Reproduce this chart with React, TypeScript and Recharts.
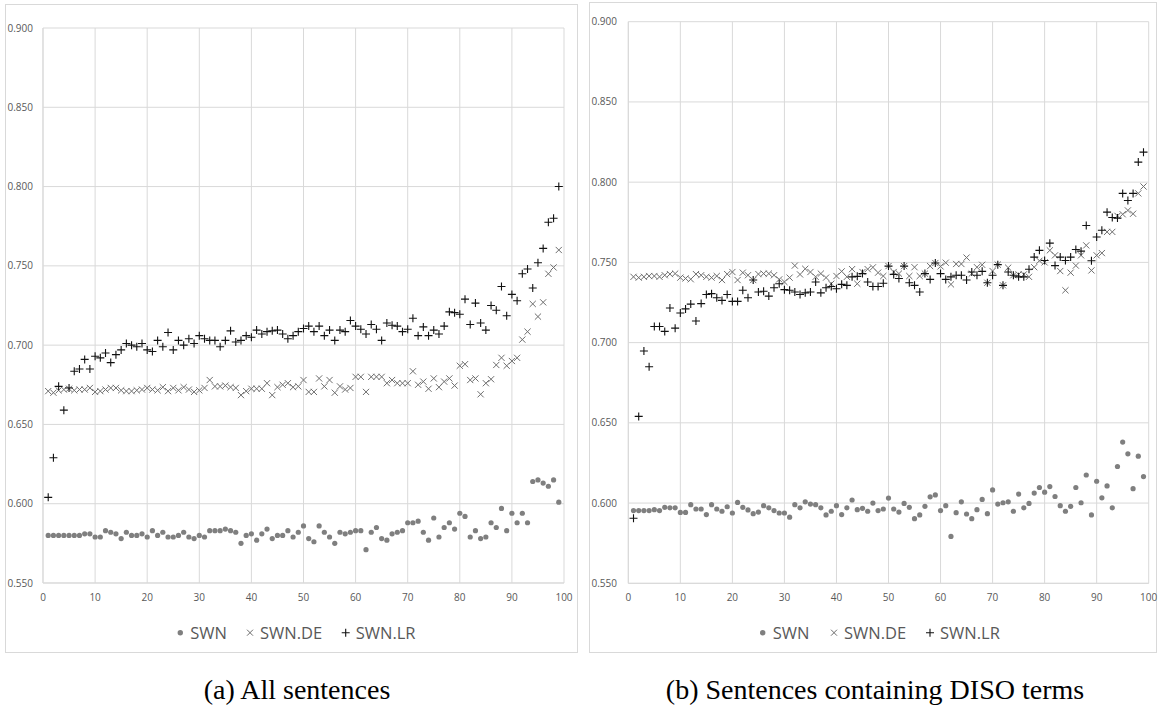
import React from 'react';
import { ScatterChart, Scatter, XAxis, YAxis, CartesianGrid } from 'recharts';

// ---------- categories & ticks ----------
const sentenceIdx: number[] = Array.from({ length: 99 }, (_, i) => i + 1);
const xTicks = [0, 10, 20, 30, 40, 50, 60, 70, 80, 90, 100];
const yTicks = [0.55, 0.6, 0.65, 0.7, 0.75, 0.8, 0.85, 0.9];
const seriesNames = ['SWN', 'SWN.DE', 'SWN.LR'];
const captions = ['(a) All sentences', '(b) Sentences containing DISO terms'];

// ---------- (a) All sentences ----------
const swnAll = [
  0.580, 0.580, 0.580, 0.580, 0.580, 0.580, 0.580, 0.581, 0.581, 0.579,
  0.579, 0.583, 0.582, 0.581, 0.578, 0.582, 0.580, 0.580, 0.581, 0.579,
  0.583, 0.580, 0.582, 0.579, 0.579, 0.580, 0.582, 0.579, 0.578, 0.580,
  0.579, 0.583, 0.583, 0.583, 0.584, 0.583, 0.582, 0.575, 0.580, 0.581,
  0.577, 0.581, 0.584, 0.578, 0.580, 0.580, 0.583, 0.579, 0.582, 0.586,
  0.578, 0.576, 0.586, 0.582, 0.579, 0.575, 0.582, 0.581, 0.582, 0.583,
  0.583, 0.571, 0.582, 0.585, 0.578, 0.577, 0.581, 0.582, 0.583, 0.588,
  0.588, 0.589, 0.582, 0.577, 0.591, 0.579, 0.585, 0.588, 0.584, 0.594,
  0.592, 0.579, 0.583, 0.578, 0.579, 0.588, 0.585, 0.597, 0.583, 0.594,
  0.588, 0.594, 0.588, 0.614, 0.615, 0.613, 0.611, 0.615, 0.601,
];
const swnDeAll = [
  0.671, 0.670, 0.6715, 0.672, 0.6725, 0.6715, 0.672, 0.672, 0.673, 0.6705,
  0.671, 0.672, 0.673, 0.673, 0.6715, 0.671, 0.671, 0.6715, 0.672, 0.673,
  0.672, 0.6715, 0.6735, 0.671, 0.673, 0.6715, 0.6735, 0.672, 0.6705, 0.6715,
  0.673, 0.678, 0.674, 0.674, 0.6745, 0.6735, 0.673, 0.6685, 0.671, 0.6725,
  0.6725, 0.6725, 0.676, 0.6685, 0.6735, 0.675, 0.676, 0.6735, 0.674, 0.678,
  0.6705, 0.6705, 0.679, 0.674, 0.678, 0.670, 0.674, 0.672, 0.673, 0.680,
  0.680, 0.6705, 0.680, 0.680, 0.680, 0.676, 0.678, 0.676, 0.676, 0.676,
  0.6835, 0.675, 0.677, 0.6725, 0.679, 0.6735, 0.677, 0.679, 0.6745, 0.687,
  0.688, 0.678, 0.679, 0.669, 0.676, 0.6785, 0.6875, 0.692, 0.687, 0.690,
  0.692, 0.7035, 0.7085, 0.726, 0.718, 0.727, 0.745, 0.749, 0.760,
];
const swnLrAll = [
  0.604, 0.629, 0.674, 0.659, 0.673, 0.6835, 0.685, 0.691, 0.685, 0.693,
  0.692, 0.695, 0.689, 0.694, 0.697, 0.701, 0.700, 0.699, 0.701, 0.697,
  0.696, 0.703, 0.699, 0.708, 0.697, 0.703, 0.700, 0.704, 0.701, 0.706,
  0.704, 0.703, 0.703, 0.699, 0.703, 0.709, 0.702, 0.703, 0.706, 0.705,
  0.7095, 0.707, 0.7085, 0.709, 0.7095, 0.707, 0.704, 0.706, 0.7085, 0.7105,
  0.712, 0.7085, 0.712, 0.706, 0.7095, 0.703, 0.7095, 0.7085, 0.7155, 0.712,
  0.710, 0.707, 0.713, 0.710, 0.703, 0.714, 0.7125, 0.712, 0.7085, 0.710,
  0.717, 0.706, 0.7115, 0.706, 0.7095, 0.707, 0.712, 0.721, 0.7205, 0.7195,
  0.729, 0.713, 0.7265, 0.714, 0.7095, 0.725, 0.722, 0.737, 0.7185, 0.732,
  0.728, 0.745, 0.748, 0.736, 0.752, 0.761, 0.7775, 0.780, 0.800,
];

// ---------- (b) Sentences containing DISO terms ----------
const swnDiso = [
  0.5953, 0.5953, 0.5953, 0.5953, 0.5959, 0.5953, 0.5973, 0.597, 0.597, 0.5942,
  0.5942, 0.599, 0.5963, 0.5963, 0.5928, 0.599, 0.5963, 0.5949, 0.5977, 0.5938,
  0.6004, 0.5973, 0.5957, 0.5934, 0.5944, 0.5984, 0.597, 0.5953, 0.5938, 0.5938,
  0.5912, 0.599, 0.597, 0.6008, 0.5994, 0.599, 0.597, 0.5926, 0.5949, 0.5984,
  0.5928, 0.597, 0.6019, 0.5959, 0.5967, 0.5949, 0.600, 0.5953, 0.5963, 0.6031,
  0.5963, 0.5944, 0.5998, 0.5973, 0.5903, 0.5926, 0.598, 0.6039, 0.6051, 0.5953,
  0.5984, 0.5792, 0.594, 0.6008, 0.5932, 0.5903, 0.5959, 0.6023, 0.5934, 0.6082,
  0.5994, 0.6002, 0.6008, 0.5949, 0.6056, 0.597, 0.5998, 0.6062, 0.6097, 0.6068,
  0.6103, 0.6041, 0.5984, 0.5949, 0.598, 0.6097, 0.6002, 0.6175, 0.5926, 0.6136,
  0.6033, 0.6107, 0.597, 0.6228, 0.638, 0.6307, 0.609, 0.6292, 0.6165,
];
const swnDeDiso = [
  0.741, 0.7405, 0.741, 0.7415, 0.7415, 0.741, 0.742, 0.7427, 0.743, 0.7405,
  0.740, 0.7395, 0.7427, 0.742, 0.741, 0.7405, 0.7415, 0.739, 0.7427, 0.744,
  0.739, 0.7436, 0.742, 0.739, 0.7427, 0.743, 0.743, 0.742, 0.7394, 0.7378,
  0.7405, 0.748, 0.7425, 0.746, 0.744, 0.741, 0.743, 0.7405, 0.7367, 0.7415,
  0.7444, 0.741, 0.7458, 0.7367, 0.744, 0.7458, 0.7469, 0.7436, 0.7415, 0.7477,
  0.744, 0.743, 0.7477, 0.7415, 0.747, 0.7415, 0.743, 0.7477, 0.7496, 0.7475,
  0.7498, 0.7363, 0.749, 0.749, 0.753, 0.743, 0.747, 0.7485, 0.7373, 0.7446,
  0.7486, 0.7357, 0.7467, 0.742, 0.7425, 0.7425, 0.741, 0.747, 0.751, 0.750,
  0.7575, 0.7544, 0.7446, 0.7326, 0.7436, 0.748, 0.7544, 0.7606, 0.745, 0.7544,
  0.7558, 0.769, 0.769, 0.779, 0.780, 0.7824, 0.7803, 0.793, 0.7973,
];
const swnLrDiso = [
  0.5905, 0.654, 0.6948, 0.685, 0.710, 0.710, 0.707, 0.7216, 0.709, 0.7185,
  0.721, 0.724, 0.7135, 0.7243, 0.730, 0.7305, 0.728, 0.7263, 0.730, 0.7257,
  0.7257, 0.7326, 0.728, 0.739, 0.7315, 0.732, 0.729, 0.7342, 0.7367, 0.733,
  0.7326, 0.7315, 0.730, 0.731, 0.7315, 0.7378, 0.731, 0.7342, 0.735, 0.7336,
  0.7363, 0.7357, 0.741, 0.7413, 0.743, 0.7378, 0.735, 0.735, 0.737, 0.7477,
  0.7425, 0.740, 0.7477, 0.7373, 0.7357, 0.7315, 0.743, 0.7394, 0.7496, 0.743,
  0.7394, 0.741, 0.742, 0.742, 0.739, 0.744, 0.742, 0.7444, 0.7373, 0.742,
  0.7486, 0.7357, 0.744, 0.742, 0.741, 0.741, 0.7457, 0.7533, 0.7575, 0.7512,
  0.762, 0.748, 0.7533, 0.7512, 0.7533, 0.758, 0.757, 0.773, 0.751, 0.7658,
  0.770, 0.7813, 0.778, 0.7776, 0.793, 0.7886, 0.793, 0.8125, 0.8187,
];

const toPoints = (vals: number[]) => vals.map((v, i) => ({ x: sentenceIdx[i], y: v }));

const GREY = '#7f7f7f';
const TEXT = '#595959';
const GRID = '#d9d9d9';
const SANS = '"Open Sans", Lato, sans-serif';

const DotShape = (p: any) => <circle cx={p.cx} cy={p.cy} r={2.6} fill={GREY} />;
const CrossShape = (p: any) => {
  const s = 3.1;
  return (
    <path
      d={`M${p.cx - s},${p.cy - s}L${p.cx + s},${p.cy + s}M${p.cx - s},${p.cy + s}L${p.cx + s},${p.cy - s}`}
      stroke="#6e6e6e"
      strokeWidth={1}
      fill="none"
    />
  );
};
const PlusShape = (p: any) => {
  const s = 4;
  return (
    <path
      d={`M${p.cx - s},${p.cy}L${p.cx + s},${p.cy}M${p.cx},${p.cy - s}L${p.cx},${p.cy + s}`}
      stroke="#111"
      strokeWidth={1.1}
      fill="none"
    />
  );
};

type PanelProps = {
  left: number;
  width: number;
  margin: { top: number; right: number; bottom: number; left: number };
  yAxisWidth: number;
  yTickMargin: number;
  swn: number[];
  de: number[];
  lr: number[];
};

const Panel = ({ left, width, margin, yAxisWidth, yTickMargin, swn, de, lr }: PanelProps) => (
  <div style={{ position: 'absolute', left, top: 0 }}>
    <ScatterChart width={width} height={660} margin={margin}>
      <CartesianGrid stroke={GRID} strokeWidth={1} />
      <XAxis
        type="number"
        dataKey="x"
        domain={[0, 100]}
        ticks={xTicks}
        interval={0}
        tickLine={false}
        tickMargin={5}
        axisLine={{ stroke: GRID }}
        height={20}
        tick={{ fill: TEXT, fontSize: 10, fontFamily: SANS }}
      />
      <YAxis
        type="number"
        dataKey="y"
        domain={[0.55, 0.9]}
        ticks={yTicks}
        interval={0}
        width={yAxisWidth}
        tickLine={false}
        tickMargin={yTickMargin}
        axisLine={{ stroke: GRID }}
        tickFormatter={(v: number) => v.toFixed(3)}
        tick={{ fill: TEXT, fontSize: 10, fontFamily: SANS }}
      />
      <Scatter name={seriesNames[0]} data={toPoints(swn)} shape={DotShape} isAnimationActive={false} />
      <Scatter name={seriesNames[1]} data={toPoints(de)} shape={CrossShape} isAnimationActive={false} />
      <Scatter name={seriesNames[2]} data={toPoints(lr)} shape={PlusShape} isAnimationActive={false} />
    </ScatterChart>
  </div>
);

const LegendRow = ({ dotX, deX, lrX, y }: { dotX: number; deX: number; lrX: number; y: number }) => (
  <g fontFamily={SANS} fontSize={16.5} fill={TEXT}>
    <circle cx={dotX} cy={y} r={2.7} fill={GREY} />
    <text x={dotX + 10} y={y} dy="0.36em">{seriesNames[0]}</text>
    <path d={`M${deX - 3},${y - 3}L${deX + 3},${y + 3}M${deX - 3},${y + 3}L${deX + 3},${y - 3}`} stroke="#6e6e6e" strokeWidth={1} />
    <text x={deX + 10} y={y} dy="0.36em">{seriesNames[1]}</text>
    <path d={`M${lrX - 4},${y}L${lrX + 4},${y}M${lrX},${y - 4}L${lrX},${y + 4}`} stroke="#111" strokeWidth={1.1} />
    <text x={lrX + 10} y={y} dy="0.36em">{seriesNames[2]}</text>
  </g>
);

export default function App() {
  return (
    <div style={{ position: 'absolute', left: 0, top: 0, width: 1159, height: 714, background: '#fff', overflow: 'hidden' }}>
      <div style={{ position: 'absolute', left: 5, top: 4, width: 573, height: 649, border: `1px solid ${GRID}`, boxSizing: 'border-box' }} />
      <div style={{ position: 'absolute', left: 589, top: 2, width: 568, height: 651, border: `1px solid ${GRID}`, boxSizing: 'border-box' }} />
      <Panel
        left={0}
        width={580}
        margin={{ top: 28, right: 16, bottom: 57, left: 0 }}
        yAxisWidth={43}
        yTickMargin={4}
        swn={swnAll}
        de={swnDeAll}
        lr={swnLrAll}
      />
      <Panel
        left={589}
        width={570}
        margin={{ top: 21.7, right: 10.3, bottom: 56.7, left: 0 }}
        yAxisWidth={39.3}
        yTickMargin={5.3}
        swn={swnDiso}
        de={swnDeDiso}
        lr={swnLrDiso}
      />
      <svg width={1159} height={714} style={{ position: 'absolute', left: 0, top: 0, pointerEvents: 'none' }}>
        <LegendRow dotX={180.3} deX={250} lrX={345.7} y={632.7} />
        <LegendRow dotX={762.7} deX={834} lrX={930} y={632.7} />
        <g fontFamily='"Liberation Serif", "DejaVu Serif", serif' fontSize={28} fill="#000" textAnchor="middle">
          <text x={297} y={699}>{captions[0]}</text>
          <text x={875} y={699}>{captions[1]}</text>
        </g>
      </svg>
    </div>
  );
}
